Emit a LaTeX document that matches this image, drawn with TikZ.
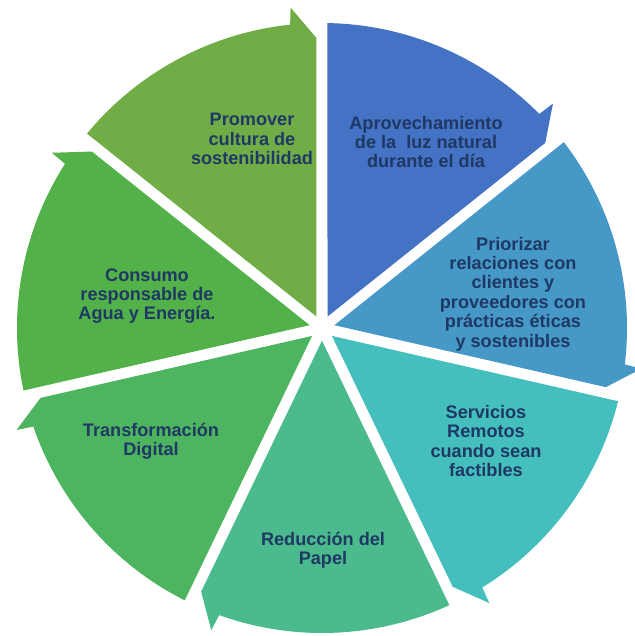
\documentclass[tikz,border=0pt]{standalone}
\usepackage{fontspec}
\setmainfont{Liberation Sans}
\definecolor{segA}{HTML}{4472C4}
\definecolor{segB}{HTML}{4698C7}
\definecolor{segC}{HTML}{45BFBD}
\definecolor{segD}{HTML}{4BBA8D}
\definecolor{segE}{HTML}{4DB45F}
\definecolor{segF}{HTML}{52B148}
\definecolor{segG}{HTML}{70AD47}
\definecolor{textblue}{HTML}{1F3864}
\tikzset{
    segment/.style={
        draw=none,
    },
    segtext/.style={
        align=center,
        text=textblue,
        inner sep=0pt,
        font=\bfseries\fontsize{12.9}{13.8}\selectfont,
    },
}

\begin{document}
\begin{tikzpicture}[scale=0.025]
    \useasboundingbox (-322,328) rectangle (313,-308);
    \foreach \col [count=\i from 0] in {segA,segB,segC,segD,segE,segF,segG}{
        \pgfmathsetmacro{\a}{90-51.4286*\i}
        \pgfmathsetmacro{\b}{\a-51.4286}
        \fill[segment,\col] (\a-25.7143:12.7) -- (\a-1.03:305)
            arc[start angle=\a-1.03, end angle=\b+6, radius=305]
            -- (\b+5.6:322) -- (\b+1.09:290) -- cycle;
    }

    \node [segtext] (aprov) at (104,186) {Aprovechamiento\\de la~~luz natural\\durante el día};
    \node [segtext] (prior) at (191,34) {Priorizar\\relaciones con\\clientes y\\proveedores con\\prácticas éticas\\y sostenibles};
    \node [segtext] (serv) at (164,-113) {Servicios\\Remotos\\cuando sean\\factibles};
    \node [segtext] (reduc) at (1,-222) {Reducción del\\Papel};
    \node [segtext] (transf) at (-171,-113) {Transformación\\Digital};
    \node [segtext] (consumo) at (-175,32) {Consumo\\responsable de\\Agua y Energía.};
    \node [segtext] (promover) at (-70,189) {Promover\\cultura de\\sostenibilidad};
\end{tikzpicture}
\end{document}
